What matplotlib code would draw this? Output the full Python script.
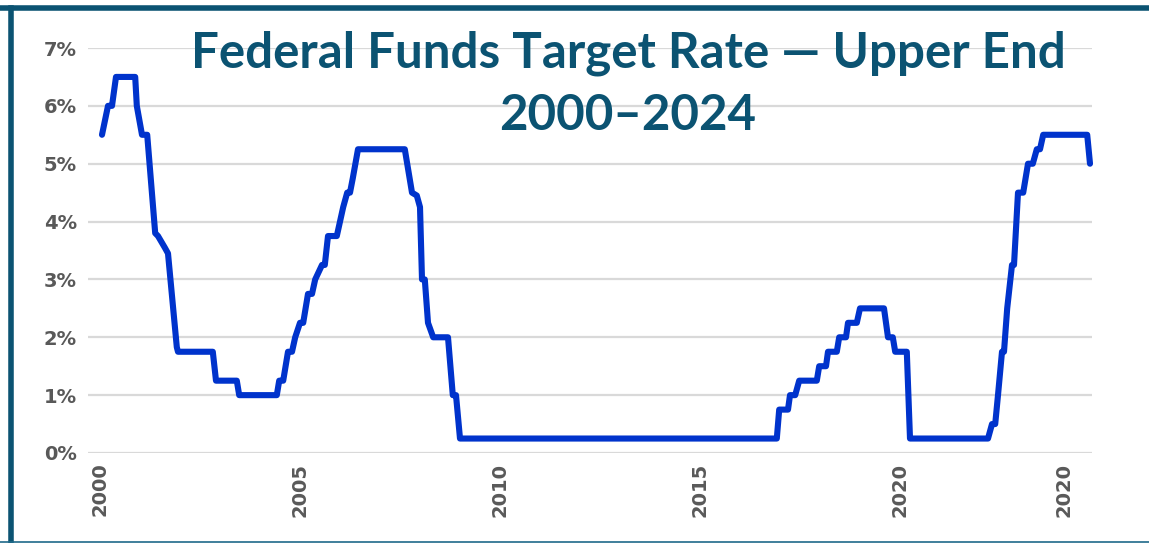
import matplotlib
matplotlib.use("Agg")
import matplotlib.pyplot as plt
from matplotlib.lines import Line2D

# vertices of the target rate line (decimal year, % upper end)
dates = [2000.05, 2000.2, 2000.3, 2000.4, 2000.88, 2000.92, 2001.05, 2001.18,
         2001.38, 2001.45, 2001.62, 2001.7, 2001.92, 2001.95, 2002.82, 2002.9,
         2003.42, 2003.48, 2004.42, 2004.48, 2004.58, 2004.7, 2004.8, 2004.88,
         2005.0, 2005.08, 2005.2, 2005.3, 2005.38, 2005.55, 2005.62, 2005.7,
         2005.92, 2006.08, 2006.18, 2006.25, 2006.32, 2006.45, 2007.62, 2007.8,
         2007.92, 2008.0, 2008.05, 2008.12, 2008.2, 2008.33, 2008.7, 2008.82,
         2008.9, 2009.0, 2016.92, 2016.98, 2017.2, 2017.25, 2017.38, 2017.48,
         2017.92, 2017.98, 2018.15, 2018.2, 2018.42, 2018.48, 2018.65, 2018.7,
         2018.92, 2019.0, 2019.6, 2019.7, 2019.82, 2019.88, 2020.17, 2020.25,
         2022.2, 2022.3, 2022.38, 2022.45, 2022.55, 2022.6, 2022.68, 2022.8,
         2022.85, 2022.95, 2023.08, 2023.2, 2023.32, 2023.42, 2023.5, 2023.58,
         2024.68, 2024.75]
rates = [5.5, 6.0, 6.0, 6.5, 6.5, 6.0, 5.5, 5.5,
         3.8, 3.75, 3.55, 3.45, 1.83, 1.75, 1.75, 1.25,
         1.25, 1.0, 1.0, 1.25, 1.25, 1.75, 1.75, 2.0,
         2.25, 2.25, 2.75, 2.75, 3.0, 3.25, 3.25, 3.75,
         3.75, 4.25, 4.5, 4.5, 4.75, 5.25, 5.25, 4.5,
         4.45, 4.25, 3.0, 3.0, 2.25, 2.0, 2.0, 1.0,
         1.0, 0.25, 0.25, 0.75, 0.75, 1.0, 1.0, 1.25,
         1.25, 1.5, 1.5, 1.75, 1.75, 2.0, 2.0, 2.25,
         2.25, 2.5, 2.5, 2.0, 2.0, 1.75, 1.75, 0.25,
         0.25, 0.5, 0.5, 1.0, 1.75, 1.75, 2.5, 3.25,
         3.25, 4.5, 4.5, 5.0, 5.0, 5.25, 5.25, 5.5,
         5.5, 5.0]

tick_pos = [2000, 2005, 2010, 2015, 2020, 2024.1]
tick_labels = ["2000", "2005", "2010", "2015", "2020", "2020"]
y_ticks = [0, 1, 2, 3, 4, 5, 6, 7]

teal = "#0b5372"
grey = "#595959"

fig = plt.figure(figsize=(11.49, 5.43), dpi=100)
ax = fig.add_axes([88 / 1149, 1 - 453 / 543, (1092 - 88) / 1149, (453 - 48) / 543])

ax.plot(dates, rates, color="#0033cc", lw=4.4, solid_joinstyle="round",
        solid_capstyle="round", clip_on=False, zorder=3)

ax.set_xlim(1999.7, 2024.8)
ax.set_ylim(0, 7)
ax.set_yticks(y_ticks)
ax.set_yticklabels([f"{v}%" for v in y_ticks])
ax.set_xticks(tick_pos)
ax.set_xticklabels(tick_labels, rotation=90)
ax.grid(axis="y", color="#d9d9d9", lw=1.6)
ax.set_axisbelow(True)
for s in ax.spines.values():
    s.set_visible(False)
ax.tick_params(length=0, colors=grey, labelsize=14)
ax.tick_params(axis="y", pad=8)
ax.tick_params(axis="x", pad=7)
for lab in ax.get_xticklabels() + ax.get_yticklabels():
    lab.set_fontfamily("DejaVu Sans")
    lab.set_fontweight("bold")

fig.text(628 / 1149, 1 - 67 / 543, "Federal Funds Target Rate \u2014 Upper End",
         ha="center", va="baseline", fontsize=35.5, fontweight="bold",
         color=teal, family="Lato", zorder=5)
fig.text(628 / 1149, 1 - 130 / 543, "2000\u20132024",
         ha="center", va="baseline", fontsize=35.5, fontweight="bold",
         color=teal, family="Lato", zorder=5)

# frame: thick top and left edges, thin bottom edge
fig.add_artist(Line2D([0, 1], [1 - 7.5 / 543] * 2, color=teal, lw=4, transform=fig.transFigure))
fig.add_artist(Line2D([10.5 / 1149] * 2, [0, 1 - 7.5 / 543], color=teal, lw=4, transform=fig.transFigure))
fig.add_artist(Line2D([0, 1], [1 - 541.5 / 543] * 2, color="#1f6a8a", lw=1.2, transform=fig.transFigure))

fig.savefig("out.png", dpi=100, facecolor="white")
